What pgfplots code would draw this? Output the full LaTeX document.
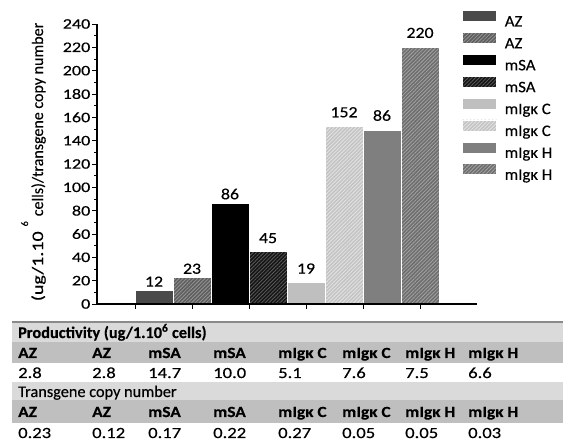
\documentclass[border=0pt]{standalone}
\usepackage{fontspec}
\setmainfont{Carlito}[FakeBold=0.35]
\newfontfamily\wideA{Carlito}[FakeStretch=1.25, FakeBold=0.35]
\newfontfamily\wideB{Carlito}[FakeStretch=1.15, FakeBold=0.35]
\newfontfamily\wideC{Carlito}[FakeStretch=1.05, FakeBold=0.35]
\newfontfamily\wideT{Carlito}[FakeStretch=1.2, FakeBold=0.35]
\newfontfamily\wideN{Carlito}[FakeStretch=1.12, FakeBold=0.35]
\usepackage{pgfplots}
\pgfplotsset{compat=1.18}
\usetikzlibrary{patterns.meta}
\definecolor{cA}{HTML}{4A4A4A}
\definecolor{cB}{HTML}{5E5E5E}
\definecolor{cBl}{HTML}{959595}
\definecolor{cC}{HTML}{000000}
\definecolor{cD}{HTML}{151515}
\definecolor{cDl}{HTML}{5A5A5A}
\definecolor{cE}{HTML}{BFBFBF}
\definecolor{cF}{HTML}{C4C4C4}
\definecolor{cFl}{HTML}{E4E4E4}
\definecolor{cG}{HTML}{7F7F7F}
\definecolor{cH}{HTML}{6E6E6E}
\definecolor{cHl}{HTML}{A2A2A2}
\definecolor{tabLight}{HTML}{DADADA}
\definecolor{tabMid}{HTML}{BFBFBF}
\definecolor{tabLine}{HTML}{8A8A8A}
\newcommand{\fA}{\wideB\fontsize{15.5bp}{16bp}\selectfont}
\newcommand{\fK}{\wideA\fontsize{14.5bp}{15bp}\selectfont}
\newcommand{\fL}{\wideC\fontsize{16bp}{16bp}\selectfont}
\newcommand{\fY}{\fontsize{16bp}{17bp}\selectfont}
\newcommand{\fT}{\fontsize{16.3bp}{16bp}\selectfont}
\newcommand{\fV}{\wideT\fontsize{15.5bp}{16bp}\selectfont}
\newcommand{\fN}{\wideN\fontsize{15.5bp}{16bp}\selectfont}
\tikzset{hatch/.style={postaction={pattern={Lines[angle=45,distance=2.6bp,line width=0.8bp]}, pattern color=#1}}}
\begin{document}
\begin{tikzpicture}[x=1bp,y=1bp]
\path[use as bounding box] (0,0) rectangle (563,443);
% table background
\fill[tabLight] (12,101) rectangle (563,121);
\fill[tabMid] (12,80) rectangle (563,101);
\fill[tabLight] (12,43) rectangle (563,61);
\fill[tabMid] (12,20) rectangle (563,43);
\draw[tabLine, line width=1.5bp] (12,121) -- (563,121);
\node[anchor=base west, inner sep=0pt, font=\fT\bfseries] at (18,105) {Productivity (ug/1.10\textsuperscript{6} cells)};
\node[anchor=base west, inner sep=0pt, font=\fT] at (18,46) {Transgene copy number};
\foreach \x/\n/\p/\c in {18/AZ/2.8/0.23, 92/AZ/2.8/0.12, 148/mSA/14.7/0.17, 213/mSA/10.0/0.22, 278/mIgκ C/5.1/0.27, 342/mIgκ C/7.6/0.05, 405/mIgκ H/7.5/0.05, 468/mIgκ H/6.6/0.03}{
  \node[anchor=base west, inner sep=0pt, font=\fN\bfseries] at (\x,85) {\n};
  \node[anchor=base west, inner sep=0pt, font=\fV] at (\x,65) {\p};
  \node[anchor=base west, inner sep=0pt, font=\fN\bfseries] at (\x,26) {\n};
  \node[anchor=base west, inner sep=0pt, font=\fV] at (\x,5) {\c};
}
\begin{axis}[
  at={(97bp,139bp)}, anchor=south west, scale only axis,
  width=380bp, height=280bp,
  xmin=0.33333, xmax=7, ymin=0, ymax=240,
  axis lines=left, axis line style={-, line width=1.1bp},
  axis on top,
  xtick={1,2,3,4,5,6}, xticklabels={},
  ytick={0,20,...,240}, minor y tick num=1,
  tick align=outside, major tick length=5bp, minor tick length=3bp,
  tick style={black, line width=0.9bp},
  /pgf/number format/assume math mode=true,
  yticklabel style={font=\fK, inner sep=1.5bp},
  clip=false,
  point meta=explicit symbolic,
  nodes near coords,
  nodes near coords style={anchor=south, inner sep=0pt, font=\fA, text=black},
  legend style={at={(axis description cs:0.9605,1.05)}, anchor=north west,
    draw=none, fill=none, inner sep=0pt, row sep=5.6bp, font=\fL,
    nodes={inner sep=0pt, text height=10bp, text depth=0bp},
    /tikz/every odd column/.style={column sep=8bp}},
  legend cell align=left,
  legend image code/.code={\draw[#1] (0bp,0bp) rectangle (34bp,11bp);},
]
\addplot[ybar, bar width=0.66667, bar shift=0pt, fill=cA, draw=white, line width=0.6bp, nodes near coords style={yshift=3bp}] coordinates {(1.33333,12) [12]};
\addplot[ybar, bar width=0.66667, bar shift=0pt, fill=cB, draw=white, line width=0.6bp, hatch=cBl, nodes near coords style={yshift=3bp}] coordinates {(2,23) [23]};
\addplot[ybar, bar width=0.66667, bar shift=0pt, fill=cC, draw=white, line width=0.6bp, nodes near coords style={yshift=4bp}] coordinates {(2.66667,86) [86]};
\addplot[ybar, bar width=0.66667, bar shift=0pt, fill=cD, draw=white, line width=0.6bp, hatch=cDl, nodes near coords style={yshift=8bp}] coordinates {(3.33333,45) [45]};
\addplot[ybar, bar width=0.66667, bar shift=0pt, fill=cE, draw=white, line width=0.6bp, nodes near coords style={yshift=8bp}] coordinates {(4,19) [19]};
\addplot[ybar, bar width=0.66667, bar shift=0pt, fill=cF, draw=white, line width=0.6bp, hatch=cFl, nodes near coords style={yshift=9bp}] coordinates {(4.66667,152) [152]};
\addplot[ybar, bar width=0.66667, bar shift=0pt, fill=cG, draw=white, line width=0.6bp, nodes near coords style={yshift=9bp}] coordinates {(5.33333,149) [86]};
\addplot[ybar, bar width=0.66667, bar shift=0pt, fill=cH, draw=white, line width=0.6bp, hatch=cHl, nodes near coords style={yshift=9bp}] coordinates {(6,220) [220]};
\legend{AZ,AZ,mSA,mSA,mIgκ C,mIgκ C,mIgκ H,mIgκ H}
\end{axis}
\node[rotate=90, anchor=base, inner sep=0pt, font=\fY] at (43,281) {{\wideA (ug/1.10}\hspace{5bp}\raisebox{15bp}{\fontsize{10bp}{10bp}\selectfont 6}\hspace{5bp}cells)/transgene copy number};
\end{tikzpicture}
\end{document}
